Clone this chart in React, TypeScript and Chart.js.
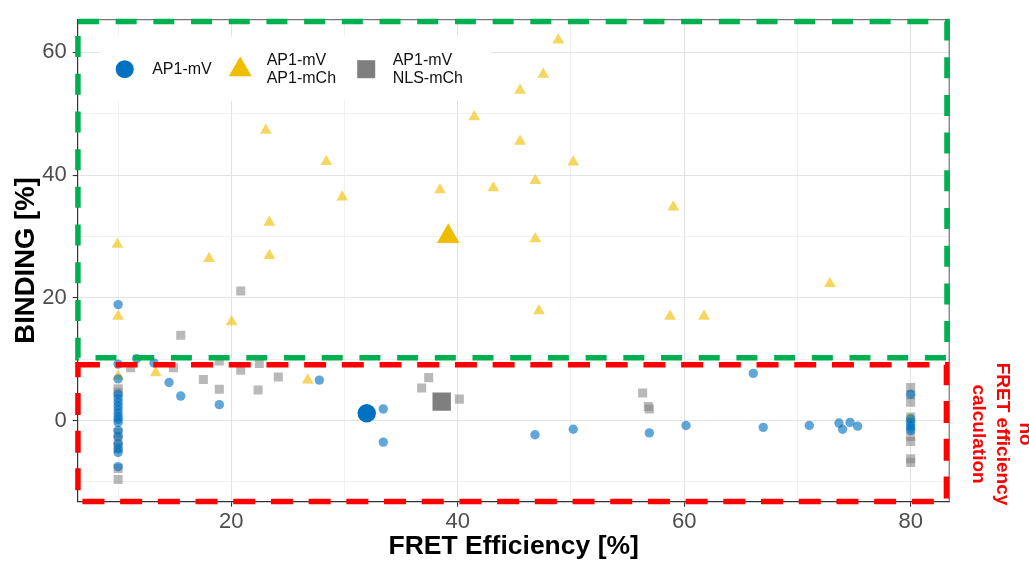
import React, { useEffect, useRef } from "react";
import { Chart, registerables } from "chart.js";

Chart.register(...registerables);

const FONT = "'Liberation Sans', Arial, Helvetica, sans-serif";

// ---- series names (legend) ----
const LEGEND_LABELS: string[][] = [["AP1-mV"], ["AP1-mV", "AP1-mCh"], ["AP1-mV", "NLS-mCh"]];

// ---- AP1-mV (circles) ----
const MV_X = [
  10, 10, 10, 10, 10, 10, 10, 10, 10, 10, 10, 10, 10, 10, 10, 10, 10, 10,
  11.64, 13.17, 14.5, 15.53, 18.94, 27.77, 33.42, 33.42, 46.82, 50.2, 56.92, 60.16, 66.1, 66.98, 71.05, 73.67, 73.99, 74.64, 75.32,
  80, 80, 80, 80, 80, 80,
];
const MV_Y = [
  18.9, 9.2, 6.8, 4.3, 3.6, 3.0, 2.4, 1.8, 1.2, 0.6, 0.2, -0.3, -1.6, -2.6, -3.8, -4.6, -5.2, -7.5,
  10.1, 9.4, 6.2, 4.0, 2.6, 6.6, 1.9, -3.5, -2.3, -1.4, -2.0, -0.8, 7.7, -1.1, -0.8, -0.4, -1.4, -0.3, -0.9,
  4.3, 0.3, -0.3, -0.8, -1.2, -1.6,
];

// ---- AP1-mV / AP1-mCh (triangles) ----
const MCH_X = [
  48.88, 47.55, 45.5, 41.46, 23.04, 45.5, 28.39, 50.2, 46.85, 38.43, 43.14, 29.8, 23.36, 46.85,
  18.03, 23.36, 9.93, 59.04, 72.87, 47.17, 20.03, 58.75, 61.75, 10, 13.32, 26.75, 10, 80,
];
const MCH_Y = [
  62.0, 56.4, 53.8, 49.5, 47.3, 45.5, 42.2, 42.1, 39.1, 37.6, 37.9, 36.4, 32.3, 29.6,
  26.4, 26.9, 28.7, 34.8, 22.3, 17.9, 16.1, 17.0, 17.0, 17.0, 7.8, 6.6, 7.2, 0.3,
];

// ---- AP1-mV / NLS-mCh (squares) ----
const NLS_X = [
  20.83, 15.53, 11.11, 14.88, 18.94, 20.83, 22.47, 17.53, 18.94, 22.36, 24.15, 37.43, 36.81, 40.14, 56.33, 56.83, 56.92,
  10, 10, 10, 10, 10, 10, 10,
  80, 80, 80, 80, 80, 80, 80, 80,
];
const NLS_Y = [
  21.1, 13.9, 8.6, 8.6, 9.7, 8.2, 9.3, 6.7, 5.1, 5.0, 7.1, 7.0, 5.3, 3.5, 4.5, 2.3, 1.9,
  5.2, 4.6, -2.0, -3.2, -4.4, -7.8, -9.6,
  5.4, 4.2, 3.0, 0.6, -2.6, -3.4, -6.2, -6.8,
];

// ---- group means (large markers): AP1-mV, AP1-mCh, NLS-mCh ----
const MEAN_X = [31.96, 39.16, 38.58];
const MEAN_Y = [1.2, 30.0, 3.1];

// ---- axes ----
const X_MIN = 6.43;
const X_MAX = 83.45;
const Y_MIN = -13.21;
const Y_MAX = 65.39;
const X_TICKS = [10, 20, 30, 40, 50, 60, 70, 80];
const X_LABELED = [20, 40, 60, 80];
const Y_TICKS = [-10, 0, 10, 20, 30, 40, 50, 60];
const Y_LABELED = [0, 20, 40, 60];
const X_TITLE = "FRET Efficiency [%]";
const Y_TITLE = "BINDING [%]";

// ---- annotations ----
const GREEN_BOX = { x0: 6.45, x1: 83.21, y0: 10.24, y1: 65.02 };
const RED_BOX = { x0: 6.45, x1: 83.16, y0: -13.18, y1: 9.11 };
const SIDE_NOTE = ["no", "FRET efficiency", "calculation"];

const COL_MV = "#0070C0";
const COL_MCH = "#F0BE00";
const COL_NLS = "#7F7F7F";

const pts = (xs: number[], ys: number[]) => xs.map((x, i) => ({ x, y: ys[i] }));

const overlayPlugin = {
  id: "overlay",
  afterDatasetsDraw(chart: any) {
    const { ctx, chartArea: ca, scales } = chart;
    const xs = scales.x;
    const ys = scales.y;
    ctx.save();

    // panel border top/right
    ctx.strokeStyle = "#555";
    ctx.lineWidth = 1;
    ctx.setLineDash([]);
    ctx.beginPath();
    ctx.moveTo(ca.left, ca.top + 0.5);
    ctx.lineTo(ca.right - 0.5, ca.top + 0.5);
    ctx.lineTo(ca.right - 0.5, ca.bottom);
    ctx.stroke();

    // legend
    const L = ca.left;
    const T = ca.top;
    ctx.fillStyle = "#fff";
    ctx.fillRect(L + 22, T + 17.5, 392, 64);
    ctx.fillStyle = COL_MV;
    ctx.beginPath();
    ctx.arc(L + 47, T + 50, 9, 0, Math.PI * 2);
    ctx.fill();
    ctx.fillStyle = COL_MCH;
    ctx.beginPath();
    ctx.moveTo(L + 162.5, T + 37.3);
    ctx.lineTo(L + 174, T + 57);
    ctx.lineTo(L + 151, T + 57);
    ctx.closePath();
    ctx.fill();
    ctx.fillStyle = COL_NLS;
    ctx.fillRect(L + 279.5, T + 41, 18, 18);
    ctx.fillStyle = "#111";
    ctx.font = `16px ${FONT}`;
    ctx.textAlign = "left";
    ctx.textBaseline = "middle";
    const textX = [L + 74.5, L + 189, L + 315];
    LEGEND_LABELS.forEach((lines, i) => {
      if (lines.length === 1) {
        ctx.fillText(lines[0], textX[i], T + 50);
      } else {
        lines.forEach((ln, j) => ctx.fillText(ln, textX[i], T + 41.6 + j * 17.7));
      }
    });

    // dashed boxes
    const drawBox = (b: any, color: string, dash: number[]) => {
      const l = xs.getPixelForValue(b.x0);
      const r = xs.getPixelForValue(b.x1);
      const t = ys.getPixelForValue(b.y1);
      const bt = ys.getPixelForValue(b.y0);
      ctx.strokeStyle = color;
      ctx.lineWidth = 5.5;
      ctx.lineCap = "butt";
      ctx.setLineDash(dash);
      ctx.beginPath();
      ctx.moveTo(l, t);
      ctx.lineTo(r, t);
      ctx.lineTo(r, bt);
      ctx.lineTo(l, bt);
      ctx.closePath();
      ctx.stroke();
    };
    drawBox(GREEN_BOX, "#00B050", [21, 16.7]);
    drawBox(RED_BOX, "#FF0000", [22, 15.7]);

    // side note (rotated)
    ctx.setLineDash([]);
    ctx.fillStyle = "#FF0000";
    ctx.font = `bold 19px ${FONT}`;
    ctx.textAlign = "center";
    ctx.textBaseline = "alphabetic";
    const cy = 434;
    const baseX = [ca.right + 70, ca.right + 46.8, ca.right + 23.6];
    SIDE_NOTE.forEach((ln, i) => {
      ctx.save();
      ctx.translate(baseX[i], cy);
      ctx.rotate(Math.PI / 2);
      ctx.fillText(ln, 0, 0);
      ctx.restore();
    });

    ctx.restore();
  },
};

export default function App() {
  const ref = useRef<HTMLCanvasElement | null>(null);

  useEffect(() => {
    if (!ref.current) return;
    const isMajorX = (c: any) => c.tick && X_LABELED.includes(c.tick.value);
    const isMajorY = (c: any) => c.tick && Y_LABELED.includes(c.tick.value);
    const chart = new Chart(ref.current, {
      type: "scatter",
      data: {
        datasets: [
          {
            label: "mean AP1-mV",
            data: [{ x: MEAN_X[0], y: MEAN_Y[0] }],
            pointStyle: "circle",
            pointRadius: 9.2,
            pointBackgroundColor: COL_MV,
            pointBorderWidth: 0,
            order: 0,
          },
          {
            label: "mean AP1-mCh",
            data: [{ x: MEAN_X[1], y: MEAN_Y[1] }],
            pointStyle: "triangle",
            pointRadius: 13.1,
            pointBackgroundColor: COL_MCH,
            pointBorderWidth: 0,
            order: 0,
          },
          {
            label: "mean NLS-mCh",
            data: [{ x: MEAN_X[2], y: MEAN_Y[2] }],
            pointStyle: "rect",
            pointRadius: 13,
            pointBackgroundColor: COL_NLS,
            pointBorderWidth: 0,
            order: 0,
          },
          {
            label: "AP1-mV",
            data: pts(MV_X, MV_Y),
            pointStyle: "circle",
            pointRadius: 4.7,
            pointBackgroundColor: "rgba(0,112,192,0.62)",
            pointBorderWidth: 0,
            order: 1,
          },
          {
            label: "AP1-mV AP1-mCh",
            data: pts(MCH_X, MCH_Y),
            pointStyle: "triangle",
            pointRadius: 6.8,
            pointBackgroundColor: "rgba(240,190,0,0.63)",
            pointBorderWidth: 0,
            order: 2,
          },
          {
            label: "AP1-mV NLS-mCh",
            data: pts(NLS_X, NLS_Y),
            pointStyle: "rect",
            pointRadius: 6.4,
            pointBackgroundColor: "rgba(128,128,128,0.55)",
            pointBorderWidth: 0,
            order: 3,
          },
        ] as any,
      },
      options: {
        responsive: false,
        animation: false,
        devicePixelRatio: 1,
        events: [],
        layout: { padding: { top: 15.7, right: 79.3, left: 0, bottom: 0 } },
        plugins: { legend: { display: false }, tooltip: { enabled: false } },
        scales: {
          x: {
            type: "linear",
            min: X_MIN,
            max: X_MAX,
            afterBuildTicks: (s: any) => {
              s.ticks = X_TICKS.map((v) => ({ value: v }));
            },
            afterFit: (s: any) => {
              s.height = 61.3;
            },
            ticks: {
              autoSkip: false,
              maxRotation: 0,
              padding: 2,
              color: "#4D4D4D",
              font: { size: 22, family: FONT },
              callback: (v: any) => (X_LABELED.includes(Number(v)) ? String(v) : ""),
            },
            grid: {
              drawTicks: true,
              tickLength: 5,
              color: (c: any) => (isMajorX(c) ? "#E3E3E3" : "#EEEEEE"),
              lineWidth: (c: any) => (isMajorX(c) ? 1.1 : 0.8),
              tickColor: (c: any) => (isMajorX(c) ? "#333" : "rgba(0,0,0,0)"),
              tickWidth: 1.1,
            },
            border: { display: true, color: "#333", width: 1.2 },
            title: {
              display: true,
              text: X_TITLE,
              color: "#000",
              font: { size: 26.5, weight: "bold", family: FONT },
              padding: { top: 0, bottom: 0 },
            },
          },
          y: {
            type: "linear",
            min: Y_MIN,
            max: Y_MAX,
            afterBuildTicks: (s: any) => {
              s.ticks = Y_TICKS.map((v) => ({ value: v }));
            },
            afterFit: (s: any) => {
              s.width = 77.7;
            },
            ticks: {
              autoSkip: false,
              padding: 6,
              color: "#4D4D4D",
              font: { size: 22, family: FONT },
              callback: (v: any) => (Y_LABELED.includes(Number(v)) ? String(v) : ""),
            },
            grid: {
              drawTicks: true,
              tickLength: 5,
              color: (c: any) => (isMajorY(c) ? "#E3E3E3" : "#EEEEEE"),
              lineWidth: (c: any) => (isMajorY(c) ? 1.1 : 0.8),
              tickColor: (c: any) => (isMajorY(c) ? "#333" : "rgba(0,0,0,0)"),
              tickWidth: 1.1,
            },
            border: { display: true, color: "#333", width: 1.2 },
            title: {
              display: true,
              text: Y_TITLE,
              color: "#000",
              font: { size: 27.5, weight: "bold", family: FONT },
              padding: { top: 10, bottom: 0 },
            },
          },
        },
      } as any,
      plugins: [overlayPlugin],
    });
    return () => chart.destroy();
  }, []);

  return (
    <div style={{ position: "fixed", left: 0, top: 0, width: 1029, height: 563, background: "#fff" }}>
      <canvas ref={ref} width={1029} height={563} style={{ display: "block", width: 1029, height: 563 }} />
    </div>
  );
}
